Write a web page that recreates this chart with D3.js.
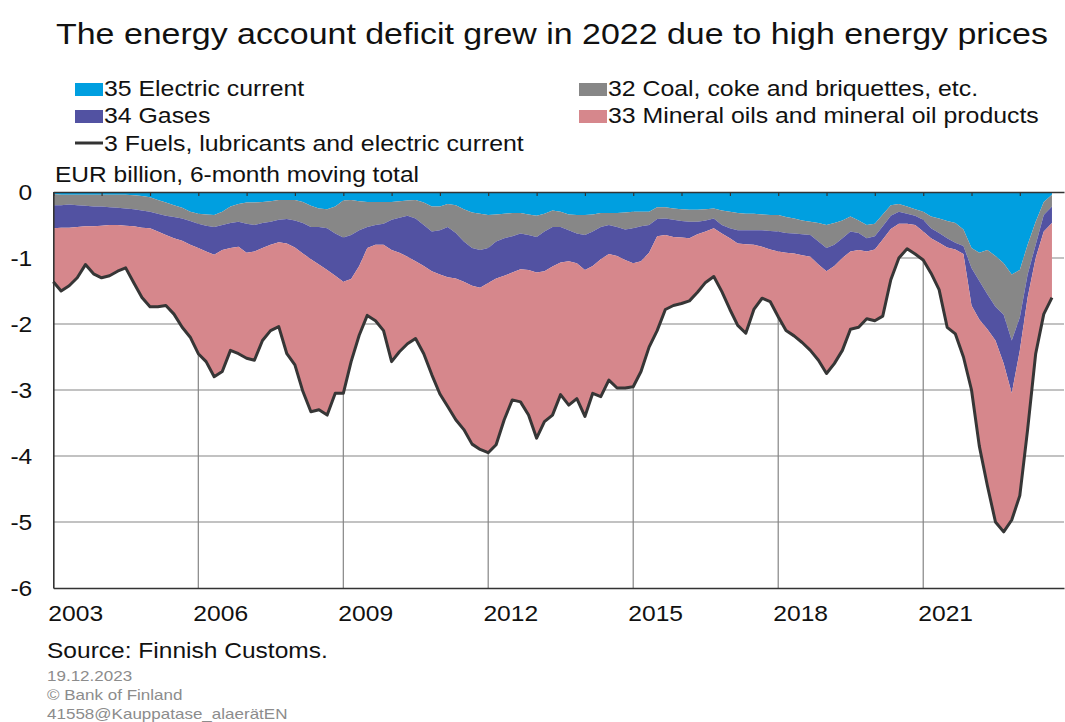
<!DOCTYPE html>
<html>
<head>
<meta charset="utf-8">
<script src="https://cdn.jsdelivr.net/npm/d3@7"></script>
<style>
  html, body { margin: 0; padding: 0; background: #fff; }
  svg { display: block; font-family: "Liberation Sans", Arial, sans-serif; }
</style>
</head>
<body>
<svg id="chart" width="1065" height="722"></svg>
<script>
// ---- Data (EUR billion, 6-month moving total), every second month from Jan 2003 to Sep 2023 ----
const firstMonth = [2003, 0];
const lastMonth = [2023, 8];
const electric = [-0.03,-0.04,-0.04,-0.04,-0.04,-0.04,-0.04,-0.04,-0.04,-0.04,
-0.05,-0.06,-0.08,-0.12,-0.16,-0.20,-0.24,-0.30,-0.33,-0.34,
-0.35,-0.30,-0.22,-0.18,-0.16,-0.16,-0.15,-0.14,-0.12,-0.12,
-0.12,-0.15,-0.21,-0.25,-0.26,-0.22,-0.13,-0.12,-0.14,-0.15,
-0.15,-0.15,-0.15,-0.14,-0.13,-0.12,-0.16,-0.22,-0.22,-0.18,
-0.20,-0.26,-0.31,-0.33,-0.35,-0.34,-0.33,-0.32,-0.32,-0.34,
-0.36,-0.33,-0.28,-0.30,-0.34,-0.35,-0.35,-0.34,-0.32,-0.32,
-0.32,-0.31,-0.30,-0.30,-0.30,-0.23,-0.23,-0.25,-0.26,-0.27,
-0.27,-0.26,-0.25,-0.28,-0.30,-0.32,-0.33,-0.33,-0.34,-0.35,
-0.35,-0.38,-0.40,-0.43,-0.45,-0.47,-0.50,-0.47,-0.43,-0.37,
-0.43,-0.50,-0.48,-0.34,-0.20,-0.18,-0.22,-0.26,-0.30,-0.37,
-0.40,-0.44,-0.47,-0.57,-0.85,-0.92,-0.88,-0.97,-1.08,-1.25,
-1.18,-0.80,-0.45,-0.15,-0.04];
const coal = [-0.17,-0.16,-0.15,-0.16,-0.17,-0.18,-0.18,-0.19,-0.20,-0.21,
-0.21,-0.22,-0.22,-0.21,-0.20,-0.18,-0.16,-0.14,-0.15,-0.17,
-0.18,-0.20,-0.25,-0.27,-0.32,-0.34,-0.32,-0.31,-0.30,-0.29,
-0.31,-0.32,-0.32,-0.28,-0.29,-0.41,-0.56,-0.53,-0.44,-0.38,
-0.35,-0.33,-0.27,-0.25,-0.23,-0.28,-0.34,-0.38,-0.36,-0.35,
-0.42,-0.49,-0.54,-0.55,-0.50,-0.41,-0.37,-0.35,-0.31,-0.31,
-0.32,-0.27,-0.25,-0.23,-0.24,-0.28,-0.30,-0.26,-0.21,-0.18,
-0.21,-0.26,-0.25,-0.22,-0.20,-0.18,-0.17,-0.17,-0.18,-0.18,
-0.18,-0.17,-0.15,-0.22,-0.25,-0.26,-0.25,-0.25,-0.24,-0.24,
-0.25,-0.24,-0.23,-0.21,-0.20,-0.28,-0.35,-0.33,-0.27,-0.23,
-0.19,-0.20,-0.19,-0.18,-0.16,-0.12,-0.11,-0.10,-0.12,-0.18,
-0.22,-0.26,-0.30,-0.25,-0.30,-0.43,-0.67,-0.77,-0.78,-1.00,
-0.72,-0.45,-0.35,-0.20,-0.18];
const gases = [-0.35,-0.34,-0.35,-0.33,-0.31,-0.30,-0.29,-0.27,-0.26,-0.26,
-0.26,-0.26,-0.25,-0.27,-0.29,-0.32,-0.34,-0.36,-0.37,-0.39,
-0.42,-0.38,-0.38,-0.38,-0.44,-0.40,-0.38,-0.35,-0.34,-0.37,
-0.41,-0.46,-0.49,-0.57,-0.63,-0.64,-0.67,-0.67,-0.54,-0.32,
-0.30,-0.32,-0.46,-0.53,-0.62,-0.65,-0.62,-0.60,-0.67,-0.76,
-0.69,-0.61,-0.57,-0.57,-0.53,-0.56,-0.57,-0.55,-0.54,-0.53,
-0.54,-0.60,-0.60,-0.54,-0.47,-0.45,-0.53,-0.52,-0.49,-0.44,
-0.44,-0.46,-0.53,-0.53,-0.42,-0.26,-0.25,-0.26,-0.25,-0.25,
-0.19,-0.17,-0.15,-0.13,-0.15,-0.20,-0.21,-0.22,-0.25,-0.28,
-0.30,-0.30,-0.30,-0.32,-0.33,-0.35,-0.35,-0.32,-0.30,-0.30,
-0.26,-0.20,-0.20,-0.20,-0.20,-0.18,-0.15,-0.14,-0.18,-0.15,
-0.15,-0.14,-0.10,-0.12,-0.57,-0.58,-0.53,-0.51,-0.74,-0.80,
-0.50,-0.35,-0.20,-0.25,-0.25];
const mineralOils = [-0.81,-0.96,-0.88,-0.77,-0.58,-0.72,-0.79,-0.77,-0.70,-0.64,
-0.86,-1.06,-1.19,-1.14,-1.07,-1.15,-1.31,-1.40,-1.60,-1.67,
-1.85,-1.84,-1.55,-1.62,-1.60,-1.65,-1.40,-1.30,-1.28,-1.67,
-1.78,-2.09,-2.31,-2.20,-2.20,-1.78,-1.69,-1.25,-1.05,-1.02,
-1.15,-1.30,-1.69,-1.50,-1.32,-1.17,-1.33,-1.57,-1.81,-1.96,
-2.14,-2.24,-2.40,-2.45,-2.57,-2.52,-2.18,-1.93,-2.01,-2.20,
-2.51,-2.28,-2.25,-2.00,-2.18,-2.05,-2.22,-1.93,-2.08,-1.91,
-2.00,-1.94,-1.87,-1.67,-1.43,-1.43,-1.13,-1.04,-1.00,-0.95,
-0.88,-0.77,-0.73,-0.88,-1.08,-1.24,-1.35,-0.98,-0.78,-0.79,
-0.99,-1.18,-1.25,-1.32,-1.42,-1.45,-1.55,-1.48,-1.40,-1.18,
-1.17,-1.02,-1.08,-1.16,-0.77,-0.52,-0.38,-0.44,-0.43,-0.53,
-0.71,-1.21,-1.28,-1.56,-1.28,-1.92,-2.37,-2.75,-2.55,-1.92,
-2.20,-2.00,-1.45,-1.25,-1.13];
const fuelsTotal = [-1.36,-1.50,-1.42,-1.30,-1.10,-1.24,-1.30,-1.27,-1.20,-1.15,
-1.38,-1.60,-1.74,-1.74,-1.72,-1.85,-2.05,-2.20,-2.45,-2.57,
-2.80,-2.72,-2.40,-2.45,-2.52,-2.55,-2.25,-2.10,-2.04,-2.45,
-2.62,-3.02,-3.33,-3.30,-3.38,-3.05,-3.05,-2.57,-2.17,-1.87,
-1.95,-2.10,-2.57,-2.42,-2.30,-2.22,-2.45,-2.77,-3.06,-3.25,
-3.45,-3.60,-3.82,-3.90,-3.95,-3.83,-3.45,-3.15,-3.18,-3.38,
-3.73,-3.48,-3.38,-3.07,-3.23,-3.13,-3.40,-3.05,-3.10,-2.85,
-2.97,-2.97,-2.95,-2.72,-2.35,-2.10,-1.78,-1.72,-1.69,-1.65,
-1.52,-1.37,-1.28,-1.51,-1.78,-2.02,-2.14,-1.78,-1.61,-1.66,
-1.89,-2.10,-2.18,-2.28,-2.40,-2.55,-2.75,-2.60,-2.40,-2.08,
-2.05,-1.92,-1.95,-1.88,-1.33,-1.00,-0.86,-0.94,-1.03,-1.23,
-1.48,-2.05,-2.15,-2.50,-3.00,-3.85,-4.45,-5.00,-5.15,-4.97,
-4.60,-3.60,-2.45,-1.85,-1.60];

const yearLabels = [2003, 2006, 2009, 2012, 2015, 2018, 2021];
const yTicks = [0, -1, -2, -3, -4, -5, -6];

const seriesKeys = ["electric", "coal", "gases", "oils"];
const seriesNames = {
  electric: "35 Electric current",
  coal: "32 Coal, coke and briquettes, etc.",
  gases: "34 Gases",
  oils: "33 Mineral oils and mineral oil products"
};
const lineName = "3 Fuels, lubricants and electric current";
const colors = { electric: "#009fe0", coal: "#878787", gases: "#5252a2", oils: "#d6878c" };

// ---- Build table ----
const dates = d3.utcMonth.range(
  new Date(Date.UTC(firstMonth[0], firstMonth[1], 1)),
  new Date(Date.UTC(lastMonth[0], lastMonth[1] + 1, 1)), 2);
const rows = dates.map((d, i) => ({
  date: d, electric: electric[i], coal: coal[i], gases: gases[i], oils: mineralOils[i], total: fuelsTotal[i]
}));

// ---- Layout ----
const svg = d3.select("#chart");
const plotL = 53.3, plotR = 1064, plotT = 192, plotB = 588;
const sx = 1.12; // horizontal stretch of lettering in the reference
const x = d3.scaleUtc()
  .domain([new Date(Date.UTC(2003, 0, 1)), new Date(Date.UTC(2023, 11, 1))])
  .range([plotL, plotR]);
const y = d3.scaleLinear().domain([-6, 0]).range([plotB, plotT]);

function label(px, py, size, str, color, anchor) {
  return svg.append("text")
    .attr("transform", `translate(${px},${py}) scale(${sx},1)`)
    .attr("font-size", size).attr("fill", color || "#111")
    .attr("text-anchor", anchor || "start")
    .text(str);
}

// Title
label(56, 44, 30.3, "The energy account deficit grew in 2022 due to high energy prices");

// Legend
const legL = 75, legR = 579, swW = 28, swH = 13;
const legRows = [
  { key: "electric", x: legL, y: 96 },
  { key: "gases", x: legL, y: 123 },
  { key: "coal", x: legR, y: 96 },
  { key: "oils", x: legR, y: 123 }
];
legRows.forEach(r => {
  svg.append("rect").attr("x", r.x).attr("y", r.y - 13).attr("width", swW).attr("height", swH)
    .attr("fill", colors[r.key]);
  label(r.x + swW + 1, r.y, 22.2, seriesNames[r.key]);
});
svg.append("line").attr("x1", legL).attr("x2", legL + swW).attr("y1", 143).attr("y2", 143)
  .attr("stroke", "#333").attr("stroke-width", 3);
label(legL + swW + 1, 151, 22.2, lineName);

// Unit label
label(55, 182, 21.9, "EUR billion, 6-month moving total");

// Gridlines
const grid = svg.append("g");
grid.selectAll("line.h").data(yTicks.filter(v => v < 0 && v > -6)).join("line")
  .attr("x1", plotL).attr("x2", plotR).attr("y1", d => y(d)).attr("y2", d => y(d))
  .attr("stroke", "#858585").attr("stroke-width", 1.2);
grid.selectAll("line.v").data(yearLabels.slice(1)).join("line")
  .attr("x1", d => x(new Date(Date.UTC(d, 0, 1)))).attr("x2", d => x(new Date(Date.UTC(d, 0, 1))))
  .attr("y1", plotT).attr("y2", plotB)
  .attr("stroke", "#858585").attr("stroke-width", 1.2);

// Stacked areas
const stack = d3.stack().keys(seriesKeys).offset(d3.stackOffsetDiverging);
const stacked = stack(rows);
const area = d3.area()
  .x(d => x(d.data.date))
  .y0(d => y(d[0]))
  .y1(d => y(d[1]));
svg.append("g").selectAll("path").data(stacked).join("path")
  .attr("d", area)
  .attr("fill", d => colors[d.key]);

// Total line
const line = d3.line().x(d => x(d.date)).y(d => y(d.total));
svg.append("path").datum(rows).attr("d", line)
  .attr("fill", "none").attr("stroke", "#363636").attr("stroke-width", 3)
  .attr("stroke-linejoin", "round");

// Axes
const yAxis = d3.axisLeft(y).tickValues(yTicks).tickSize(0).tickPadding(0)
  .tickFormat(d => String(d));
const gy = svg.append("g").attr("transform", `translate(${plotL},0)`).call(yAxis);
gy.select(".domain").attr("stroke", "#333").attr("stroke-width", 1.6);
gy.selectAll(".tick text").attr("x", null)
  .attr("transform", `translate(-21,0) scale(${sx},1)`)
  .attr("font-size", 22).attr("fill", "#111");

const xAxis = d3.axisBottom(x)
  .tickValues(yearLabels.map(yv => new Date(Date.UTC(yv, 6, 1))))
  .tickSize(0).tickPadding(17)
  .tickFormat(d3.utcFormat("%Y"));
const gx = svg.append("g").attr("transform", `translate(-2,${plotB})`).call(xAxis);
gx.select(".domain").attr("transform", "translate(2,0)").attr("stroke", "#333").attr("stroke-width", 1.6);
gx.selectAll(".tick text").attr("transform", `scale(${sx},1)`)
  .attr("x", function() { return 0; })
  .attr("font-size", 22).attr("fill", "#111");
// re-place scaled x labels at their tick centres
gx.selectAll(".tick").each(function(d) {
  d3.select(this).select("text").attr("transform", `scale(${sx},1)`);
});

const topAxis = d3.axisTop(x).ticks(d3.utcYear.every(1)).tickSizeInner(-4).tickSizeOuter(0)
  .tickFormat("");
const gt = svg.append("g").attr("transform", `translate(0,${plotT})`).call(topAxis);
gt.select(".domain").attr("stroke", "#333").attr("stroke-width", 1.6);
gt.selectAll(".tick line").attr("stroke", "#333").attr("stroke-width", 1.2);

// Footer
label(47, 658, 21.9, "Source: Finnish Customs.");
const footer = ["19.12.2023", "© Bank of Finland", "41558@Kauppatase_alaerätEN"];
footer.forEach((t, i) => label(47, 681 + i * 19, 15.2, t, "#8c8c8c"));
</script>
</body>
</html>
